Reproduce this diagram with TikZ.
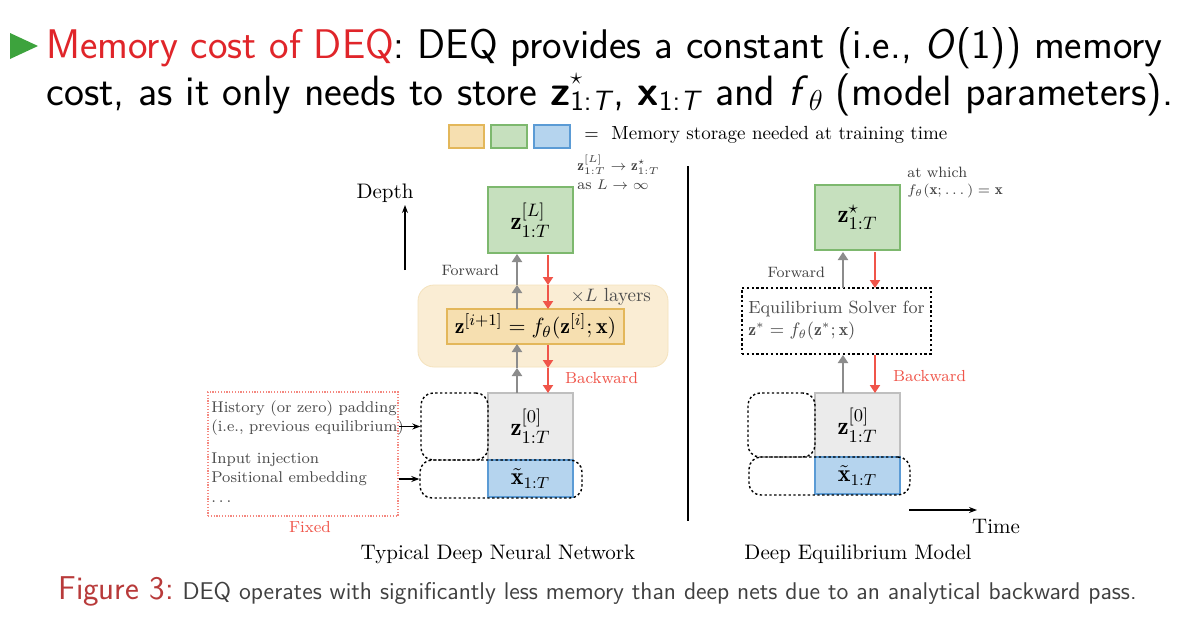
\documentclass[tikz,border=0pt]{standalone}
\usepackage{fontspec}
\usepackage{amsmath,amssymb}
\usetikzlibrary{arrows.meta}
\definecolor{dred}{HTML}{E0252A}
\definecolor{tgreen}{HTML}{3DA33D}
\definecolor{gfill}{HTML}{C6E0BE}\definecolor{gdraw}{HTML}{7DB86E}
\definecolor{yfill}{HTML}{F6DFB0}\definecolor{ydraw}{HTML}{E3B75A}
\definecolor{bfill}{HTML}{B5D4EE}\definecolor{bdraw}{HTML}{5B9BD5}
\definecolor{arr}{HTML}{F0554A}
\definecolor{capred}{HTML}{B83A3A}
\tikzset{
 gbox/.style={draw=gdraw,fill=gfill,line width=0.6pt},
 zbox/.style={draw=black!25,fill=black!8,line width=0.6pt},
 bbox/.style={draw=bdraw,fill=bfill,line width=0.6pt},
 dotb/.style={draw,dash pattern=on 1.2pt off 1.2pt,line width=0.7pt,rounded corners=6pt},
 fw/.style={draw=black!45,line width=1.3pt,-{Triangle[length=4pt,width=5pt]}},
 bw/.style={draw=arr,line width=1.3pt,-{Triangle[length=4pt,width=5pt]}},
 sm/.style={font=\fontsize{7.5}{8.5}\selectfont,text=black!75},
 lbl/.style={font=\fontsize{9}{10}\selectfont,text=black!70},
}
\newcommand{\sub}[1]{\raisebox{-0.3ex}{\fontsize{14}{14}\selectfont #1}}
\begin{document}
\begin{tikzpicture}[x=0.5pt,y=-0.5pt]
\useasboundingbox (0,0) rectangle (1200,627);
\fill[white] (0,0) rectangle (1200,627);
% title
\fill[tgreen] (10,33) -- (38,46) -- (10,59) -- cycle;
\node[anchor=base west,inner sep=0,font=\sffamily\fontsize{20.7}{24}\selectfont] (t1) at (46,58)
 {\textcolor{dred}{Memory cost of DEQ}: DEQ provides a constant (i.e., \textit{O}(1)) memory};
\node[anchor=base west,inner sep=0,font=\sffamily\fontsize{21.2}{24}\selectfont] (t2) at (46,105)
 {cost, as it only needs to store \textbf{z}\rlap{\raisebox{1.1ex}{\fontsize{13}{13}\selectfont$\star$}}\sub{1:\textit{T}}, \textbf{x}\sub{1:\textit{T}} and \textit{f}\sub{$\theta$} (model parameters).};
% legend
\path[draw=ydraw,fill=yfill,line width=0.6pt] (449,125) rectangle (484,148);
\path[draw=gdraw,fill=gfill,line width=0.6pt] (491,125) rectangle (527,148);
\path[draw=bdraw,fill=bfill,line width=0.6pt] (534,125) rectangle (570,148);
\node[anchor=west,inner sep=0,font=\fontsize{9.5}{10}\selectfont] (leg) at (584,135) {$=$ \ Memory storage needed at training time};
% ---------- left
\node[font=\fontsize{10.5}{11}\selectfont] (depth) at (385,193) {Depth};
\coordinate (d0) at (405,270); \coordinate (d1) at (405,205);
\draw[-{Stealth[length=4pt]},line width=0.6pt] (d0) -- (d1);
\node[gbox,minimum width=42.5pt,minimum height=33pt,font=\fontsize{12.5}{13}\selectfont] (zL) at (530.5,220) {$\mathbf{z}^{[L]}_{1:T}$};
\node[sm,anchor=north west,align=left,inner sep=0] (noteL) at (577,155) {$\mathbf{z}^{[L]}_{1:T}\to\mathbf{z}^\star_{1:T}$\\[1pt] as $L\to\infty$};
\node[draw=ydraw!40,fill=yfill!55,rounded corners=8pt,minimum width=125pt,minimum height=41pt] (lay) at (543,326) {};
\node[lbl,text=black!70,anchor=east,font=\fontsize{9.5}{10}\selectfont] (xl) at (658,297) {$\times L$ layers};
\node[draw=ydraw,fill=yfill,line width=0.6pt,minimum width=88.5pt,minimum height=17.5pt,font=\fontsize{11}{12}\selectfont,inner sep=0] (eq) at (535.5,326.5) {$\mathbf{z}^{[i+1]} = f_\theta(\mathbf{z}^{[i]};\mathbf{x})$};
\node[zbox,minimum width=42.5pt,minimum height=33.5pt,font=\fontsize{12.5}{13}\selectfont] (z0) at (530.5,426.5) {$\mathbf{z}^{[0]}_{1:T}$};
\node[bbox,minimum width=42.5pt,minimum height=18.5pt,font=\fontsize{12}{13}\selectfont,inner sep=0] (xt) at (530.5,478.5) {$\tilde{\mathbf{x}}_{1:T}$};
\node[dotb,minimum width=33.5pt,minimum height=33.5pt] (hp) at (454.5,426.5) {};
\node[dotb,minimum width=81pt,minimum height=19pt] (ip) at (501,479) {};
\coordinate (a1) at (517,393); \coordinate (a2) at (517,368); \coordinate (a3) at (517,344);
\coordinate (a4) at (517,309); \coordinate (a5) at (517,285); \coordinate (a6) at (517,254);
\draw[fw] (a1) -- (a2); \draw[fw] (a2) -- (a3); \draw[fw] (a4) -- (a5); \draw[fw] (a5) -- (a6);
\coordinate (b1) at (548,255); \coordinate (b2) at (548,285); \coordinate (b3) at (548,309);
\coordinate (b4) at (548,345); \coordinate (b5) at (548,368); \coordinate (b6) at (548,393);
\draw[bw] (b1) -- (b2); \draw[bw] (b2) -- (b3); \draw[bw] (b4) -- (b5); \draw[bw] (b5) -- (b6);
\node[sm,anchor=east] (fwl) at (506,270) {Forward};
\node[sm,text=arr,anchor=west,font=\fontsize{8}{9}\selectfont] (bwl) at (558,378) {Backward};
\node[draw=arr!70,dash pattern=on 0.6pt off 0.8pt,line width=0.6pt,minimum width=95pt,minimum height=62pt] (fix) at (303,454) {};
\node[lbl,anchor=north west,align=left,inner sep=0,font=\fontsize{7.8}{9.8}\selectfont] (fixt) at (211,400)
 {History (or zero) padding\\(i.e., previous equilibrium)\\[6pt]Input injection\\Positional embedding\\$\dots$};
\node[sm,text=arr,font=\fontsize{8}{9}\selectfont] (fixl) at (310,527) {Fixed};
\draw[-{Stealth[length=4pt]},line width=0.6pt] (fix.east |- hp) -- (hp.west);
\draw[-{Stealth[length=4pt]},line width=0.6pt] (fix.east |- ip) -- (ip.west);
% divider
\coordinate (v0) at (688,166); \coordinate (v1) at (688,521);
\draw[line width=1.4pt] (v0) -- (v1);
% ---------- right
\node[gbox,minimum width=42.5pt,minimum height=32.5pt,font=\fontsize{12.5}{13}\selectfont] (zs) at (857.5,217.5) {$\mathbf{z}^\star_{1:T}$};
\node[sm,anchor=north west,align=left,inner sep=0] (noteR) at (907,167) {at which\\$f_\theta(\mathbf{x};\dots)=\mathbf{x}$};
\node[draw,dash pattern=on 1.2pt off 1.2pt,line width=0.6pt,minimum width=94.5pt,minimum height=33pt,align=left,lbl,font=\fontsize{8.8}{11}\selectfont,inner sep=1pt] (sol) at (836.5,321) {Equilibrium Solver for\\$\mathbf{z}^* = f_\theta(\mathbf{z}^*;\mathbf{x})$};
\node[zbox,minimum width=42.5pt,minimum height=32pt,font=\fontsize{12.5}{13}\selectfont] (z0r) at (857.5,425) {$\mathbf{z}^{[0]}_{1:T}$};
\node[bbox,minimum width=42.5pt,minimum height=18.5pt,font=\fontsize{12}{13}\selectfont,inner sep=0] (xtr) at (857.5,475.5) {$\tilde{\mathbf{x}}_{1:T}$};
\node[dotb,minimum width=33.5pt,minimum height=32pt] (hpr) at (781.5,425) {};
\node[dotb,minimum width=80.5pt,minimum height=19pt] (ipr) at (829.5,476) {};
\draw[fw] (843,393) -- (843,355);
\draw[fw] (843,288) -- (843,252);
\draw[bw] (875,252) -- (875,288);
\draw[bw] (875,355) -- (875,393);
\node[sm,anchor=east] (fwr) at (832,272) {Forward};
\node[sm,text=arr,anchor=west,font=\fontsize{8}{9}\selectfont] (bwr) at (886,376) {Backward};
\coordinate (t0) at (909,510); \coordinate (t1e) at (977,510);
\draw[-{Stealth[length=4pt]},line width=0.6pt] (t0) -- (t1e);
\node[font=\fontsize{10.5}{11}\selectfont] (time) at (996,527) {Time};
\node[font=\fontsize{10.5}{11}\selectfont] (c1) at (498,554) {Typical Deep Neural Network};
\node[font=\fontsize{10.5}{11}\selectfont] (c2) at (858,554) {Deep Equilibrium Model};
% figure caption
\node[anchor=base west,inner sep=0,font=\sffamily] (cap) at (58,599)
 {\textcolor{capred}{\fontsize{16.5}{18}\selectfont Figure 3:} {\fontsize{12.1}{13}\selectfont\color{black!75} DEQ operates with significantly less memory than deep nets due to an analytical backward pass.}};
\end{tikzpicture}
\end{document}
